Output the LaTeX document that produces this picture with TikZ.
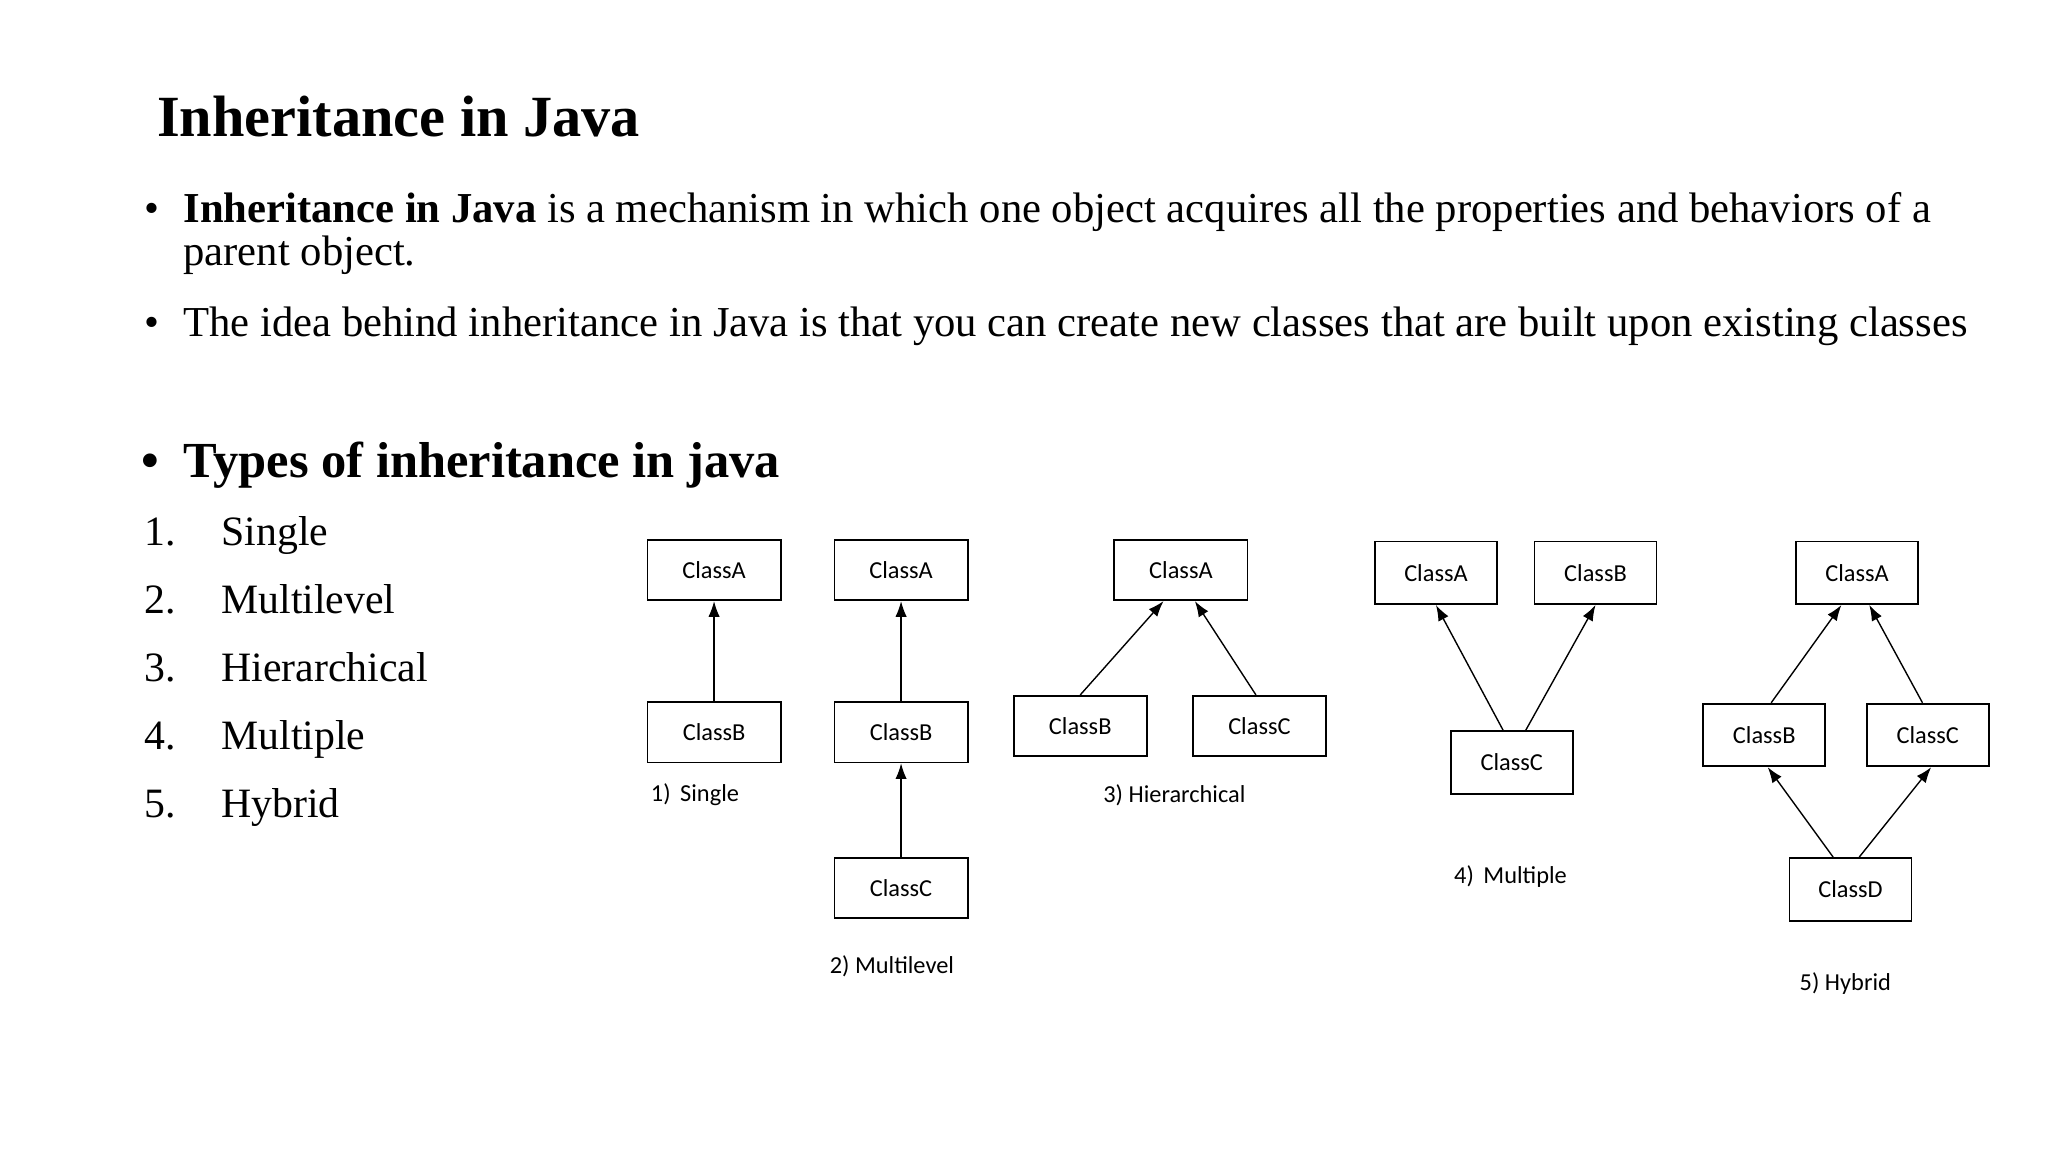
\documentclass[tikz,border=0pt]{standalone}
\usepackage{fontspec}
\setmainfont{Liberation Serif}
\newfontfamily\diagfont{Carlito}
\usetikzlibrary{arrows.meta}

\tikzset{
  classbox/.style={draw, line width=1pt, minimum width=76.5pt, minimum height=34.5pt, inner sep=0pt, font=\diagfont\fontsize{14}{16}\selectfont},
  wideclass/.style={classbox, minimum width=70pt, minimum height=36pt},
  caption/.style={font=\diagfont\fontsize{14}{16}\selectfont},
  inherit/.style={-{Latex[length=9pt,width=6.5pt]}, line width=0.8pt},
  slidetext/.style={anchor=base west, inner sep=0pt, font=\fontsize{24.5}{28}\selectfont},
}

\begin{document}
\begin{tikzpicture}[x=0.0264cm, y=-0.0264cm]
        \useasboundingbox[fill=white] (0,0) rectangle (1566,881);

        % heading and bullets
        \node[slidetext, font=\bfseries\fontsize{33.5}{38}\selectfont] (title) at (120,104) {Inheritance in Java};
        \node[slidetext] (dot1) at (110,170) {•};
        \node[slidetext] (line1) at (140,170) {\textbf{Inheritance in Java} is a mechanism in which one object acquires all the properties and behaviors of a};
        \node[slidetext] (line1b) at (140,203) {parent object.};
        \node[slidetext] (dot2) at (110,257) {•};
        \node[slidetext] (line2) at (140,257) {The idea behind inheritance in Java is that you can create new classes that are built upon existing classes};
        \node[slidetext, font=\bfseries\fontsize{29}{33}\selectfont] (dot3) at (108,365) {•};
        \node[slidetext, font=\bfseries\fontsize{29}{33}\selectfont] (types) at (140,365) {Types of inheritance in java};

        % numbered list
        \foreach \n/\name [count=\i] in {1/Single, 2/Multilevel, 3/Hierarchical, 4/Multiple, 5/Hybrid} {
            \node[slidetext, font=\fontsize{24}{28}\selectfont] (num\i) at (110,365+52*\i) {\n.};
            \node[slidetext, font=\fontsize{24}{28}\selectfont] (item\i) at (169,365+52*\i) {\name};
        }

        % 1) single
        \node[classbox] (sA) at (546,436) {ClassA};
        \node[classbox] (sB) at (546,560) {ClassB};
        \draw[inherit] (sB) -- (sA);
        \node[caption, anchor=west] (sCap) at (493,608) {1)\, Single};

        % 2) multilevel
        \node[classbox] (lA) at (689,436) {ClassA};
        \node[classbox] (lB) at (689,560) {ClassB};
        \node[classbox] (lC) at (689,679) {ClassC};
        \draw[inherit] (lB) -- (lA);
        \draw[inherit] (lC) -- (lB);
        \node[caption] (lCap) at (682,739) {2) Multilevel};

        % 3) hierarchical
        \node[classbox] (hA) at (903,436) {ClassA};
        \node[classbox] (hB) at (826,555) {ClassB};
        \node[classbox] (hC) at (963,555) {ClassC};
        \draw[inherit] (hB.north) -- ([xshift=-10pt]hA.south);
        \draw[inherit] ([xshift=-2pt]hC.north) -- ([xshift=8pt]hA.south);
        \node[caption] (hCap) at (898,608) {3) Hierarchical};

        % 4) multiple
        \node[wideclass] (mA) at (1098,438) {ClassA};
        \node[wideclass] (mB) at (1220,438) {ClassB};
        \node[wideclass] (mC) at (1156,583) {ClassC};
        \draw[inherit] ([xshift=-5pt]mC.north) -- (mA.south);
        \draw[inherit] ([xshift=8pt]mC.north) -- (mB.south);
        \node[caption] (mCap) at (1155,670) {4)\, Multiple};

        % 5) hybrid
        \node[wideclass] (yA) at (1420,438) {ClassA};
        \node[wideclass] (yB) at (1349,562) {ClassB};
        \node[wideclass] (yC) at (1474,562) {ClassC};
        \node[wideclass] (yD) at (1415,680) {ClassD};
        \draw[inherit] ([xshift=4pt]yB.north) -- ([xshift=-9pt]yA.south);
        \draw[inherit] ([xshift=-3pt]yC.north) -- ([xshift=7pt]yA.south);
        \draw[inherit] ([xshift=-10pt]yD.north) -- ([xshift=2pt]yB.south);
        \draw[inherit] ([xshift=5pt]yD.north) -- ([xshift=2pt]yC.south);
        \node[caption] (yCap) at (1411,752) {5) Hybrid};
\end{tikzpicture}
\end{document}
